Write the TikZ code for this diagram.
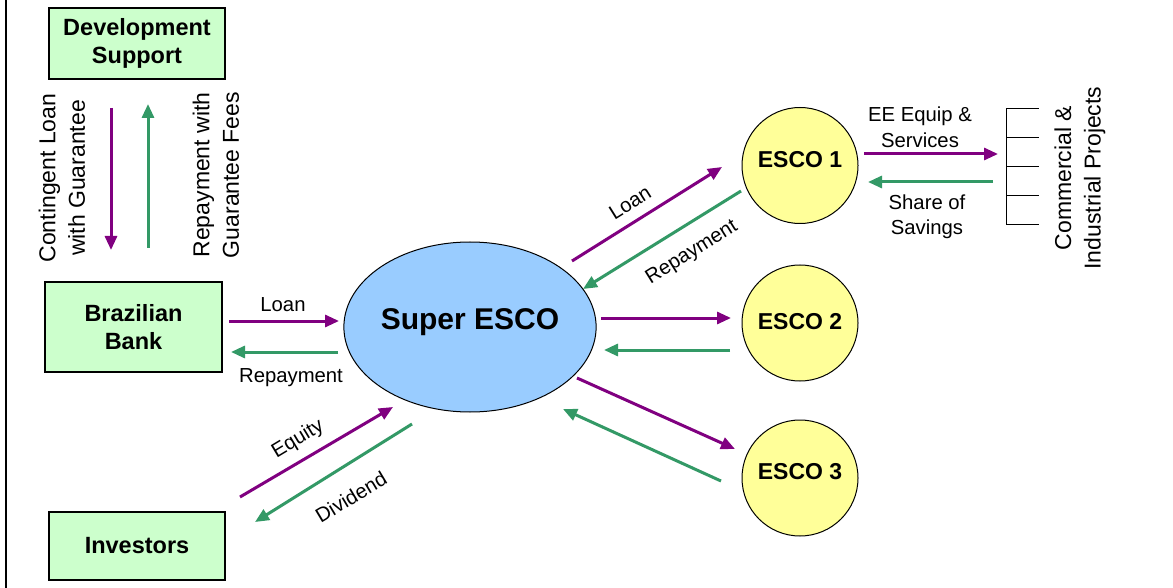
\documentclass[tikz,border=0pt]{standalone}
\usepackage{fontspec}
\setmainfont{Liberation Sans}
\usetikzlibrary{arrows.meta,shapes.geometric}
\definecolor{boxgreen}{HTML}{CCFFCC}
\definecolor{ellblue}{HTML}{99CCFF}
\definecolor{circyellow}{HTML}{FFFF99}
\definecolor{flowpurple}{HTML}{800080}
\definecolor{flowgreen}{HTML}{339966}
\tikzset{
  greenbox/.style={draw=black, line width=1.2pt, fill=boxgreen, inner sep=0pt,
    minimum width=176pt, align=center, font=\fontsize{23.5}{28}\selectfont\bfseries},
  escocirc/.style={draw=black, line width=1pt, fill=circyellow, circle, inner sep=0pt,
    minimum size=116pt, font=\fontsize{23}{27}\selectfont\bfseries},
  superell/.style={draw=black, line width=1pt, fill=ellblue, ellipse, inner sep=0pt,
    minimum width=236pt, minimum height=170pt, font=\fontsize{30}{36}\selectfont\bfseries},
  flow/.style={line width=3pt, -{Triangle[length=14pt,width=12pt]}},
  pflow/.style={flow, draw=flowpurple},
  gflow/.style={flow, draw=flowgreen},
  lbl/.style={font=\fontsize{20.3}{25.5}\selectfont, align=center, inner sep=0pt},
  vlbl/.style={font=\fontsize{23}{29.5}\selectfont, align=center, inner sep=0pt, rotate=90},
}
\begin{document}
\begin{tikzpicture}[x=1pt,y=-1pt]
\useasboundingbox (0,0) rectangle (1173,588);
\fill[white] (0,0) rectangle (1173,588);
\draw[line width=2pt] (6,0) -- (6,588);

% boxes
\node[greenbox, minimum height=71pt] (dev) at (137,43.5) {Development\\Support};
\node[greenbox, minimum width=177pt, minimum height=90pt] (bank) at (133.5,327) {Brazilian\\Bank};
\node[greenbox, minimum height=68pt] (inv) at (137,546) {Investors};

% super esco and escos
\node[superell] (super) at (470,327) {\raisebox{-2pt}[0pt][0pt]{Super ESCO}};
\node[escocirc] (esco1) at (800,165.5) {\raisebox{-2.5pt}[0pt][0pt]{ESCO 1}};
\node[escocirc] (esco2) at (800,323) {\raisebox{-6.3pt}[0pt][0pt]{ESCO 2}};
\node[escocirc] (esco3) at (800,478) {\raisebox{-1pt}[0pt][0pt]{ESCO 3}};

% arrow endpoints
\coordinate (d1s) at (111,108); \coordinate (d1e) at (111,250);
\coordinate (d2s) at (148,248); \coordinate (d2e) at (148,104);
\coordinate (b1s) at (229,321); \coordinate (b1e) at (339,321);
\coordinate (b2s) at (338,352); \coordinate (b2e) at (231,352);
\coordinate (e1s) at (240,497); \coordinate (e1e) at (393,407);
\coordinate (e2s) at (412,424); \coordinate (e2e) at (255,522);
\coordinate (l1s) at (572,261); \coordinate (l1e) at (722,167);
\coordinate (l2s) at (741,191); \coordinate (l2e) at (583,289);
\coordinate (m1s) at (601,318); \coordinate (m1e) at (731,318);
\coordinate (m2s) at (730,350); \coordinate (m2e) at (604,350);
\coordinate (n1s) at (577,378); \coordinate (n1e) at (735,449);
\coordinate (n2s) at (721,481); \coordinate (n2e) at (563,409);
\coordinate (p1s) at (864,154); \coordinate (p1e) at (998,154);
\coordinate (p2s) at (993,182); \coordinate (p2e) at (868,182);

\draw[pflow] (d1s) -- (d1e);
\draw[gflow] (d2s) -- (d2e);
\draw[pflow] (b1s) -- (b1e);
\draw[gflow] (b2s) -- (b2e);
\draw[pflow] (e1s) -- (e1e);
\draw[gflow] (e2s) -- (e2e);
\draw[pflow] (l1s) -- (l1e);
\draw[gflow] (l2s) -- (l2e);
\draw[pflow] (m1s) -- (m1e);
\draw[gflow] (m2s) -- (m2e);
\draw[pflow] (n1s) -- (n1e);
\draw[gflow] (n2s) -- (n2e);
\draw[pflow] (p1s) -- (p1e);
\draw[gflow] (p2s) -- (p2e);

% labels
\node[vlbl] (lcont) at (62,178) {Contingent Loan\\with Guarantee};
\node[vlbl] (lrepg) at (216,175) {Repayment with\\Guarantee Fees};
\node[lbl] (lbloan) at (283,305) {Loan};
\node[lbl] (lbrep) at (291,378) {Repayment};
\node[lbl, rotate=31] (leq) at (298,439) {Equity};
\node[lbl, rotate=31] (ldiv) at (351,497) {Dividend};
\node[lbl, rotate=32] (lloan1) at (630,203) {Loan};
\node[lbl, rotate=32] (lrep1) at (692,253) {Repayment};
\node[lbl] (lee) at (920,127) {EE Equip \&\\Services};
\node[lbl] (lshare) at (927,217) {Share of\\Savings};
\node[vlbl] (lproj) at (1080,178) {Commercial \&\\Industrial Projects};

% projects bracket
\draw[line width=1pt] (1006,109) -- (1006,225.5);
\foreach \yy in {109,138,167,196,225} {
  \draw[line width=1pt] (1006,\yy) -- (1039,\yy);
}
\end{tikzpicture}
\end{document}
